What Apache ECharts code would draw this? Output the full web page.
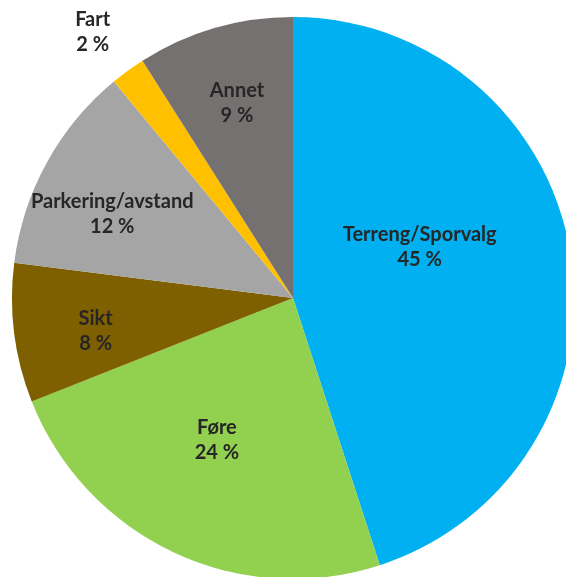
<!DOCTYPE html>
<html>
<head>
<meta charset="utf-8">
<script src="https://cdn.jsdelivr.net/npm/echarts@6/dist/echarts.min.js"></script>
<style>
  html, body { margin: 0; padding: 0; background: #fff; }
  #chart { width: 566px; height: 577px; }
</style>
</head>
<body>
<div id="chart"></div>
<script>
// data, clockwise from 12 o'clock
var categories = ['Terreng/Sporvalg', 'Føre', 'Sikt', 'Parkering/avstand', 'Fart', 'Annet'];
var percents = [45, 24, 8, 12, 2, 9];
var colors = ['#00B0F0', '#92D050', '#7F6000', '#A5A5A5', '#FFC000', '#767171'];
// label nudges from the default "inside" spot (Excel puts them differently)
var labelOffsets = [[-15, -29], [-15, 12], [-55, 15], [-55, -15], [-116, -150], [-16, -57]];

var data = categories.map(function (name, i) {
  return {
    name: name,
    value: percents[i],
    itemStyle: { color: colors[i] },
    label: { offset: labelOffsets[i] }
  };
});

var myChart = echarts.init(document.getElementById('chart'));
myChart.setOption({
  animation: false,
  series: [{
    type: 'pie',
    center: [293, 298],
    radius: 281,
    startAngle: 90,
    clockwise: true,
    silent: true,
    itemStyle: { borderWidth: 0 },
    label: {
      show: true,
      position: 'inside',
      formatter: function (p) { return p.name + '\n' + p.value + ' %'; },
      color: '#262626',
      fontFamily: 'Lato',
      fontWeight: 'bold',
      fontSize: 20,
      lineHeight: 25,
      align: 'center'
    },
    labelLine: { show: false },
    data: data
  }]
});
</script>
</body>
</html>
